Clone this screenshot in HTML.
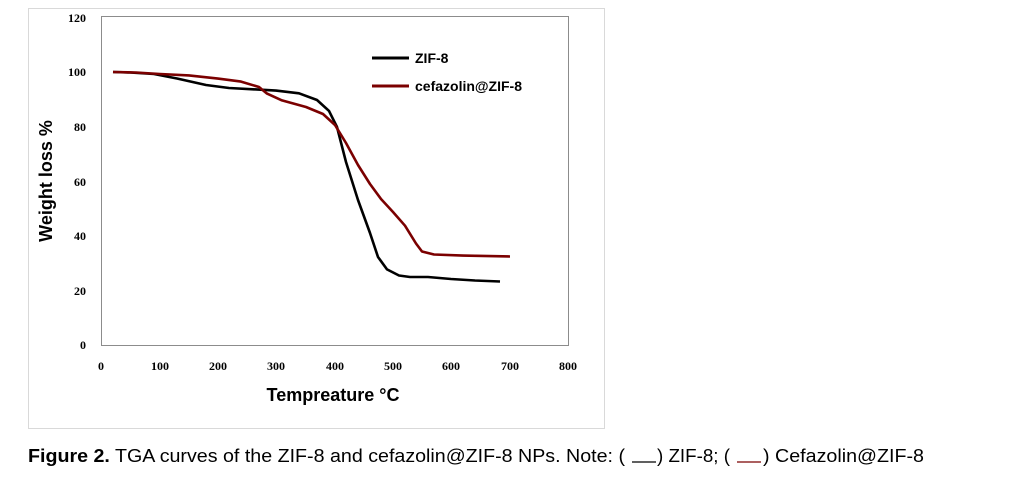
<!DOCTYPE html>
<html><head><meta charset="utf-8"><style>
body{margin:0;background:#fff;width:1012px;height:476px;overflow:hidden;font-family:"Liberation Sans",sans-serif}
</style></head><body>
<svg width="1012" height="476" viewBox="0 0 1012 476" xmlns="http://www.w3.org/2000/svg">
<rect x="28.5" y="8.5" width="576" height="420" fill="#fff" stroke="#d9d9d9" stroke-width="1"/>
<rect x="101.5" y="16.5" width="467" height="329" fill="none" stroke="#8c8c8c" stroke-width="1"/>
<g font-family="Liberation Serif,serif" font-weight="bold" font-size="12" fill="#000" text-anchor="end">
<text x="86" y="22">120</text><text x="86" y="76">100</text><text x="86" y="131">80</text><text x="86" y="186">60</text><text x="86" y="240">40</text><text x="86" y="295">20</text><text x="86" y="349">0</text>
</g>
<g font-family="Liberation Serif,serif" font-weight="bold" font-size="12" fill="#000" text-anchor="middle">
<text x="101" y="370">0</text><text x="160" y="370">100</text><text x="218" y="370">200</text><text x="276" y="370">300</text><text x="335" y="370">400</text><text x="393" y="370">500</text><text x="451" y="370">600</text><text x="510" y="370">700</text><text x="568" y="370">800</text>
</g>
<text x="333" y="401" font-weight="bold" font-size="18" text-anchor="middle">Tempreature °C</text>
<text transform="translate(52,181) rotate(-90)" font-weight="bold" font-size="18" text-anchor="middle">Weight loss %</text>
<line x1="372" y1="58" x2="409" y2="58" stroke="#000" stroke-width="3"/>
<text x="415" y="63" font-weight="bold" font-size="14">ZIF-8</text>
<line x1="372" y1="86" x2="409" y2="86" stroke="#7b0000" stroke-width="3"/>
<text x="415" y="91" font-weight="bold" font-size="14">cefazolin@ZIF-8</text>
<g fill="none" stroke-width="2.6" stroke-linejoin="round">
<polyline stroke="#000" points="113,72 130,72.5 154,74 177,78.5 206,85 229,88 253,89.3 276,90.6 299,93.3 317,100 329,110.9 337,127 346,162 358,200 370,233 378,257 387,269.4 399,275.5 410,277 428,277 451,279 475,280.5 500,281.5"/>
<polyline stroke="#7b0000" points="113,72 136,72.5 160,74 189,75.4 218,78.6 241,81.6 259,87 267,93.6 282,100.4 306,107 323,114 335,125 346,143 358,165 370,184 381,199 393,212 405,225.7 416,243.5 422,251.5 434,254.5 463,255.6 510,256.5"/>
</g>
<g font-size="18" fill="#000">
<text x="28" y="462" textLength="597" lengthAdjust="spacingAndGlyphs"><tspan font-weight="bold">Figure 2.</tspan> TGA curves of the ZIF-8 and cefazolin@ZIF-8 NPs. Note: (</text>
<text x="657" y="462" textLength="73" lengthAdjust="spacingAndGlyphs">) ZIF-8; (</text>
<text x="763" y="462" textLength="161" lengthAdjust="spacingAndGlyphs">) Cefazolin@ZIF-8</text>
</g>
<line x1="632" y1="462" x2="656" y2="462" stroke="#000" stroke-width="1.2"/>
<line x1="737" y1="462" x2="761" y2="462" stroke="#7b0000" stroke-width="1.2"/>
</svg>
</body></html>
